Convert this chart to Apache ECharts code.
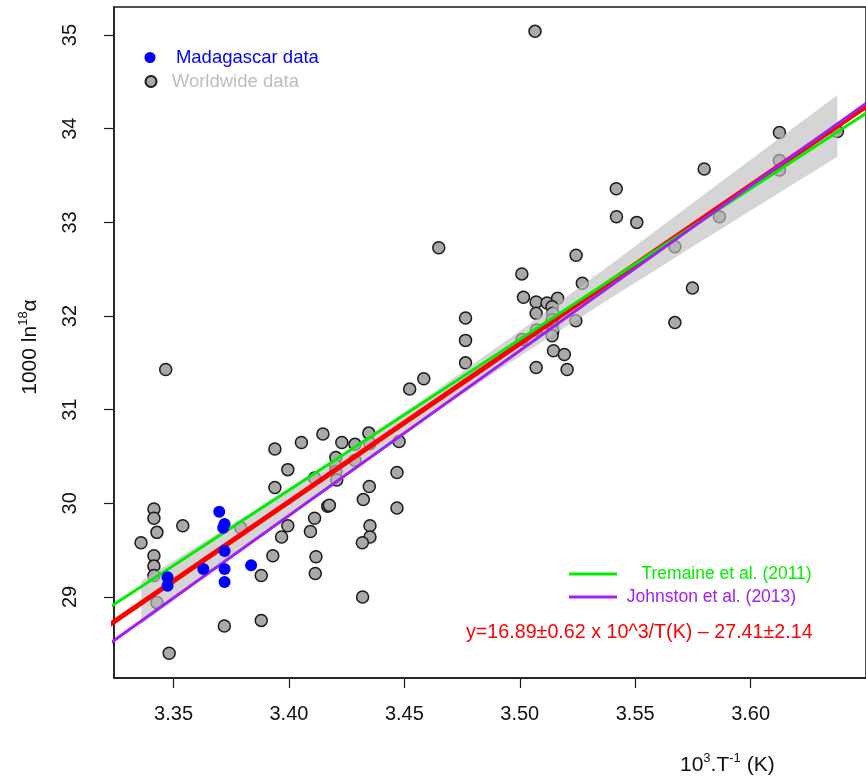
<!DOCTYPE html>
<html lang="en">
<head>
    <meta charset="UTF-8">
    <title>1000 ln18 alpha vs 10^3/T</title>
    <script src="https://cdn.jsdelivr.net/npm/echarts@6/dist/echarts.min.js"></script>
    <style>
        body { margin: 0; background: #fff; }
        #chart { width: 866px; height: 783px; }
    </style>
</head>
<body>
    <div id="chart"></div>
    <script>
        // tick labels
        var xTicks = [3.35, 3.40, 3.45, 3.50, 3.55, 3.60];
        var yTicks = [29, 30, 31, 32, 33, 34, 35];

        // Madagascar data (blue)
        var madagascar = [
            [3.3698, 29.91], [3.3721, 29.78], [3.3715, 29.74], [3.3721, 29.49],
            [3.3629, 29.30], [3.3721, 29.30], [3.3836, 29.34], [3.3721, 29.16],
            [3.3474, 29.21], [3.3474, 29.12]
        ];

        // Worldwide data (grey)
        var worldwide = [
            [3.3359, 29.58], [3.3415, 29.94], [3.3415, 29.84], [3.3428, 29.69], [3.3415, 29.44],
            [3.3415, 29.33], [3.3415, 29.23], [3.3428, 28.94], [3.3481, 28.40], [3.3466, 31.43],
            [3.3540, 29.76], [3.3720, 28.69], [3.3791, 29.74], [3.3880, 29.23], [3.3880, 28.75],
            [3.3939, 30.58], [3.4054, 30.65], [3.4147, 30.74], [3.4229, 30.65], [3.4286, 30.63],
            [3.4346, 30.75], [3.4351, 30.64], [3.4477, 30.66], [3.3995, 30.36], [3.3939, 30.17],
            [3.4111, 30.27], [3.4203, 30.49], [3.4203, 30.40], [3.4203, 30.34], [3.4207, 30.25],
            [3.4286, 30.46], [3.3995, 29.76], [3.3968, 29.64], [3.3930, 29.44], [3.4111, 29.84],
            [3.4093, 29.70], [3.4117, 29.43], [3.4114, 29.25], [3.4168, 29.97], [3.4175, 29.98],
            [3.4319, 29.00], [3.4322, 30.04], [3.4348, 30.18], [3.4351, 29.76], [3.4351, 29.64],
            [3.4318, 29.58], [3.4468, 30.33], [3.4468, 29.95],
            [3.4523, 31.22], [3.4584, 31.33], [3.4649, 32.73], [3.4765, 31.98], [3.4765, 31.74],
            [3.4765, 31.50],
            [3.5009, 32.45], [3.5016, 32.20], [3.5010, 31.75], [3.5066, 35.04], [3.5071, 32.15],
            [3.5071, 32.03], [3.5072, 31.85], [3.5071, 31.45], [3.5118, 32.14], [3.5164, 32.19],
            [3.5140, 32.10], [3.5143, 32.03], [3.5140, 31.96], [3.5140, 31.90], [3.5143, 31.84],
            [3.5140, 31.79], [3.5146, 31.63], [3.5193, 31.59], [3.5205, 31.43], [3.5243, 31.95],
            [3.5244, 32.65], [3.5271, 32.35],
            [3.5418, 33.36], [3.5419, 33.06], [3.5507, 33.00], [3.5672, 32.74], [3.5672, 31.93],
            [3.5748, 32.30], [3.5799, 33.57], [3.5865, 33.06], [3.6125, 33.96], [3.6125, 33.66],
            [3.6125, 33.56], [3.6376, 33.97]
        ];

        // fitted lines (end points across the plot)
        var fitLine = [[3.32, 28.665], [3.65, 34.239]];
        var tremaineLine = [[3.32, 28.852], [3.65, 34.165]];
        var johnstonLine = [[3.32, 28.462], [3.65, 34.270]];

        // confidence band of the fit
        var bandX = [3.336, 3.38, 3.42, 3.46, 3.50, 3.54, 3.58, 3.6376];
        var bandLo = [28.71, 29.51, 30.23, 30.92, 31.57, 32.20, 32.82, 33.70];
        var bandHi = [29.17, 29.85, 30.48, 31.14, 31.84, 32.56, 33.30, 34.36];

        var FONT = 'Liberation Sans, Arial, sans-serif';

        var chart = echarts.init(document.getElementById('chart'), null, { renderer: 'canvas' });

        var option = {
            animation: false,
            backgroundColor: '#fff',
            grid: {
                left: 114, top: 7, right: -4, bottom: 105,
                show: true, borderColor: '#1a1a1a', borderWidth: 1.5
            },
            xAxis: {
                type: 'value',
                min: 3.3242, max: 3.65,
                axisLine: { onZero: false, lineStyle: { color: '#1a1a1a', width: 1.5 } },
                axisTick: { customValues: xTicks, length: 10, lineStyle: { color: '#1a1a1a', width: 1.2 } },
                axisLabel: {
                    customValues: xTicks, margin: 26, color: '#111', fontSize: 20, fontFamily: FONT,
                    formatter: function (v) { return v.toFixed(2); }
                },
                splitLine: { show: false }
            },
            yAxis: {
                type: 'value',
                min: 28.135, max: 35.30,
                axisLine: { onZero: false, lineStyle: { color: '#1a1a1a', width: 1.5 } },
                axisTick: { customValues: yTicks, length: 10, lineStyle: { color: '#1a1a1a', width: 1.2 } },
                axisLabel: {
                    customValues: yTicks, rotate: 90, margin: 34, color: '#111', fontSize: 20, fontFamily: FONT
                },
                splitLine: { show: false }
            },
            legend: [
                {
                    data: ['Madagascar data'], left: 144.5, top: 48, padding: 0,
                    itemWidth: 11, itemHeight: 11, selectedMode: false,
                    formatter: function (n) { return '   ' + n; },
                    textStyle: { color: '#0000ff', fontSize: 18.5, fontFamily: FONT }
                },
                {
                    data: ['Worldwide data'], left: 144.5, top: 72, padding: 0,
                    itemWidth: 11, itemHeight: 11, selectedMode: false,
                    formatter: function (n) { return '  ' + n; },
                    textStyle: { color: '#bebebe', fontSize: 18.5, fontFamily: FONT }
                },
                {
                    data: [{ name: 'Tremaine et al. (2011)', icon: 'rect' }], left: 569, top: 565, padding: 0,
                    itemWidth: 48, itemHeight: 3, selectedMode: false,
                    formatter: function (n) { return '    ' + n; },
                    textStyle: { color: '#00ee00', fontSize: 17.5, fontFamily: FONT }
                },
                {
                    data: [{ name: 'Johnston et al. (2013)', icon: 'rect' }], left: 569, top: 588, padding: 0,
                    itemWidth: 48, itemHeight: 3, selectedMode: false,
                    formatter: function (n) { return ' ' + n; },
                    textStyle: { color: '#a020f0', fontSize: 17.5, fontFamily: FONT }
                }
            ],
            series: [
                {
                    name: 'Worldwide data',
                    type: 'scatter',
                    z: 2,
                    symbol: 'circle',
                    symbolSize: 12,
                    itemStyle: { color: '#a9a9a9', borderColor: '#1a1a1a', borderWidth: 1.5, opacity: 1 },
                    data: worldwide
                },
                {
                    name: 'band',
                    type: 'custom',
                    z: 3,
                    silent: true,
                    data: [[bandX[0], bandLo[0]]],
                    renderItem: function (params, api) {
                        var pts = [];
                        for (var i = 0; i < bandX.length; i++) {
                            pts.push(api.coord([bandX[i], bandHi[i]]));
                        }
                        for (var j = bandX.length - 1; j >= 0; j--) {
                            pts.push(api.coord([bandX[j], bandLo[j]]));
                        }
                        return {
                            type: 'polygon',
                            shape: { points: pts },
                            style: { fill: 'rgba(190,190,190,0.65)' }
                        };
                    }
                },
                {
                    name: 'fit',
                    type: 'line',
                    z: 4,
                    symbol: 'none',
                    lineStyle: { color: '#ff0000', width: 5 },
                    data: fitLine
                },
                {
                    name: 'Tremaine et al. (2011)',
                    type: 'line',
                    z: 4,
                    symbol: 'none',
                    color: '#00ee00',
                    lineStyle: { color: '#00ee00', width: 3 },
                    data: tremaineLine
                },
                {
                    name: 'Johnston et al. (2013)',
                    type: 'line',
                    z: 4,
                    symbol: 'none',
                    color: '#a020f0',
                    lineStyle: { color: '#a020f0', width: 3 },
                    data: johnstonLine
                },
                {
                    name: 'Madagascar data',
                    type: 'scatter',
                    z: 5,
                    symbol: 'circle',
                    symbolSize: 12,
                    itemStyle: { color: '#0000ff', opacity: 1 },
                    data: madagascar
                }
            ],
            graphic: [
                {
                    type: 'text', left: 466, top: 623, z: 10,
                    style: {
                        text: 'y=16.89±0.62 x 10^3/T(K) – 27.41±2.14',
                        fill: '#ff0000', fontSize: 19.7, fontFamily: FONT
                    }
                },
                {
                    type: 'text', left: 680, top: 752, z: 10,
                    style: {
                        text: '10{s|3}.T{s|-1} (K)',
                        fill: '#111', fontSize: 21, fontFamily: FONT, lineHeight: 26,
                        rich: { s: { fontSize: 13, verticalAlign: 'top', lineHeight: 16, fontFamily: FONT, fill: '#111' } }
                    }
                },
                {
                    type: 'text', x: 30, y: 347, rotation: Math.PI / 2, z: 10,
                    style: {
                        text: '1000 ln{s|18}α',
                        fill: '#111', fontSize: 21, fontFamily: FONT, lineHeight: 26,
                        align: 'center', verticalAlign: 'middle',
                        rich: { s: { fontSize: 13, verticalAlign: 'top', lineHeight: 16, fontFamily: FONT, fill: '#111' } }
                    }
                }
            ]
        };

        chart.setOption(option);
    </script>
</body>
</html>
